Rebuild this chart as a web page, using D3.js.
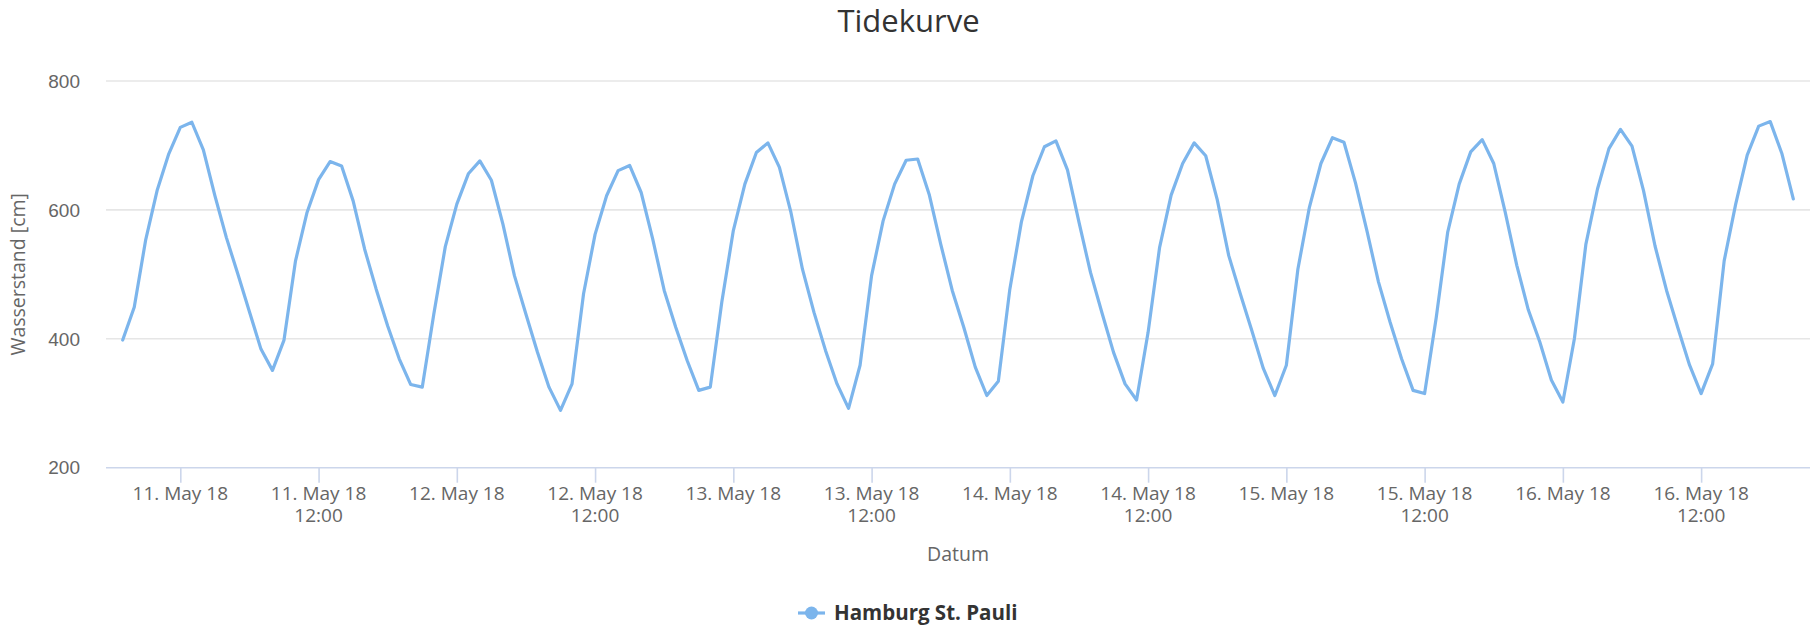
<!DOCTYPE html>
<html>
<head>
<meta charset="utf-8">
<script src="https://cdn.jsdelivr.net/npm/d3@7"></script>
<style>
  html, body { margin: 0; padding: 0; background: #fff; }
  svg { display: block; font-family: "Open Sans", "Lucida Grande", "Lucida Sans Unicode", Arial, sans-serif; }
</style>
</head>
<body>
<svg id="chart" width="1817" height="625"></svg>
<script>
// ---- data ----
const chartTitle = "Tidekurve";
const seriesName = "Hamburg St. Pauli";
const yAxisTitle = "Wasserstand [cm]";
const xAxisTitle = "Datum";
const startTime = "2018-05-10T19:00:00Z"; // first reading, hourly readings follow
const yTicks = [200, 400, 600, 800];
const waterLevel = [
  398, 449, 554, 631, 687, 728, 736, 693, 622, 557, 500, 442, 384, 351, 398, 521,
  596, 647, 675, 668, 614, 539, 477, 420, 369, 329, 325, 438, 543, 609, 656, 676,
  646, 578, 498, 438, 379, 325, 289, 330, 470, 562, 622, 661, 669, 627, 555, 475,
  418, 366, 320, 325, 457, 568, 640, 689, 704, 666, 596, 508, 441, 382, 330, 292,
  359, 498, 583, 640, 677, 679, 624, 547, 475, 418, 356, 312, 334, 477, 581, 653,
  698, 707, 662, 581, 503, 440, 379, 330, 305, 410, 542, 623, 672, 704, 684, 616,
  529, 470, 413, 354, 312, 359, 508, 604, 672, 712, 705, 642, 567, 488, 426, 369,
  320, 315, 432, 565, 640, 690, 709, 672, 596, 514, 445, 395, 336, 302, 400, 547,
  632, 695, 725, 699, 630, 544, 475, 416, 359, 315, 361, 521, 609, 685, 730, 737,
  688, 617
];

// ---- build ----
const t0 = new Date(startTime);
const points = waterLevel.map((v, i) => ({ t: d3.utcHour.offset(t0, i), v }));
const tEnd = points[points.length - 1].t;
const pad = (tEnd - t0) * 0.01;

const svg = d3.select("#chart");
const plotLeft = 106, plotRight = 1810, plotTop = 81, plotBottom = 467.7;

const x = d3.scaleUtc()
  .domain([new Date(+t0 - pad), new Date(+tEnd + pad)])
  .range([plotLeft, plotRight]);
const y = d3.scaleLinear().domain([200, 800]).range([plotBottom, plotTop]);

// title
svg.append("text")
  .attr("x", 908.5).attr("y", 32)
  .attr("text-anchor", "middle")
  .attr("fill", "#333333")
  .style("font-size", "31px")
  .text(chartTitle);

// grid lines
svg.append("g").selectAll("line")
  .data(yTicks.filter(d => d !== 200))
  .join("line")
  .attr("x1", plotLeft).attr("x2", plotRight)
  .attr("y1", d => y(d)).attr("y2", d => y(d))
  .attr("stroke", "#e6e6e6").attr("stroke-width", 1.6);

// y axis labels
const yAxis = d3.axisLeft(y).tickValues(yTicks).tickSize(0).tickPadding(0);
const gy = svg.append("g").attr("transform", `translate(80,0)`).call(yAxis);
gy.select(".domain").remove();
gy.selectAll("text")
  .attr("fill", "#666666")
  .attr("dy", "0.33em")
  .style("font-size", "19px")
  .style("font-family", null);

// y axis title
svg.append("text")
  .attr("transform", `translate(25,${(plotTop + plotBottom) / 2}) rotate(-90)`)
  .attr("text-anchor", "middle")
  .attr("fill", "#666666")
  .style("font-size", "19.5px")
  .text(yAxisTitle);

// x axis
const xTickValues = d3.utcHour.every(12).range(t0, tEnd);
const xAxis = d3.axisBottom(x).tickValues(xTickValues).tickSize(15).tickFormat("");
const gx = svg.append("g").attr("transform", `translate(0,${plotBottom})`).call(xAxis);
gx.select(".domain").attr("stroke", "#ccd6eb").attr("stroke-width", 1.6)
  .attr("d", `M${plotLeft},0H${plotRight}`);
gx.selectAll(".tick line").attr("stroke", "#ccd6eb").attr("stroke-width", 1.6);

const fmtDay = d3.utcFormat("%-d. %b %y");
const fmtTime = d3.utcFormat("%H:%M");
const lbl = svg.append("g").selectAll("text")
  .data(xTickValues)
  .join("text")
  .attr("x", d => x(d))
  .attr("y", plotBottom + 32)
  .attr("text-anchor", "middle")
  .attr("fill", "#666666")
  .style("font-size", "19px");
lbl.append("tspan").attr("x", d => x(d)).text(d => fmtDay(d));
lbl.filter(d => d.getUTCHours() !== 0)
  .append("tspan").attr("x", d => x(d)).attr("dy", 22.5).text(d => fmtTime(d));

// x axis title
svg.append("text")
  .attr("x", (plotLeft + plotRight) / 2).attr("y", 561)
  .attr("text-anchor", "middle")
  .attr("fill", "#666666")
  .style("font-size", "19.5px")
  .text(xAxisTitle);

// line
const line = d3.line().x(d => x(d.t)).y(d => y(d.v));
svg.append("path")
  .datum(points)
  .attr("d", line)
  .attr("fill", "none")
  .attr("stroke", "#7cb5ec")
  .attr("stroke-width", 3.2)
  .attr("stroke-linejoin", "round")
  .attr("stroke-linecap", "round");

// legend
const legendY = 613;
const lg = svg.append("g");
lg.append("line").attr("x1", 798).attr("x2", 825).attr("y1", legendY).attr("y2", legendY)
  .attr("stroke", "#7cb5ec").attr("stroke-width", 3.2);
lg.append("circle").attr("cx", 811.5).attr("cy", legendY).attr("r", 6.5).attr("fill", "#7cb5ec");
lg.append("text").attr("x", 834).attr("y", legendY + 7)
  .attr("fill", "#333333")
  .style("font-size", "20.5px").style("font-weight", "bold")
  .text(seriesName);
</script>
</body>
</html>
